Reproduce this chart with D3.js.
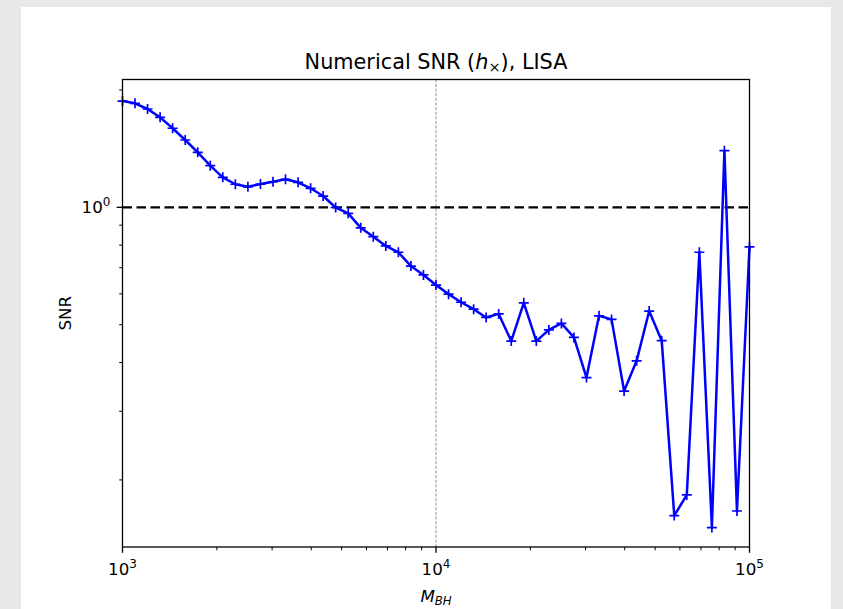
<!DOCTYPE html>
<html>
<head>
<meta charset="utf-8">
<script src="https://cdn.jsdelivr.net/npm/d3@7"></script>
<style>
  html, body { margin: 0; padding: 0; background: #e8e8e8; }
  svg { display: block; font-family: "DejaVu Sans", sans-serif; }
</style>
</head>
<body>
<svg id="chart"></svg>
<script>
// black hole mass (log spaced)
const masses = [1000, 1096, 1202, 1318, 1445, 1585, 1738, 1905, 2089, 2291,
  2512, 2754, 3020, 3311, 3631, 3981, 4365, 4786, 5248, 5754,
  6310, 6918, 7586, 8318, 9120, 10000, 10965, 12023, 13183, 14454,
  15849, 17378, 19055, 20893, 22909, 25119, 27542, 30200, 33113, 36308,
  39811, 43652, 47863, 52481, 57544, 63096, 69183, 75858, 83176, 91201, 100000];

// numerical SNR
const snr = [1.873, 1.848, 1.787, 1.701, 1.595, 1.488, 1.384, 1.279, 1.194, 1.146,
  1.129, 1.147, 1.163, 1.180, 1.159, 1.119, 1.069, 0.999, 0.965, 0.886,
  0.841, 0.796, 0.767, 0.707, 0.671, 0.632, 0.599, 0.571, 0.548, 0.522,
  0.533, 0.454, 0.569, 0.454, 0.485, 0.504, 0.464, 0.366, 0.527, 0.516,
  0.338, 0.404, 0.542, 0.455, 0.162, 0.183, 0.767, 0.151, 1.397, 0.1665, 0.792];

const xMajor = [1e3, 1e4, 1e5];
const xMajorExp = ['3', '4', '5'];
const xMinor = [2e3, 3e3, 4e3, 5e3, 6e3, 7e3, 8e3, 9e3, 2e4, 3e4, 4e4, 5e4, 6e4, 7e4, 8e4, 9e4];
const yMajor = [1];
const yMajorExp = ['0'];
const yMinor = [0.2, 0.3, 0.4, 0.5, 0.6, 0.7, 0.8, 0.9, 2];

const width = 843;
const height = 609;
const margin = { left: 122.5, right: 93.5, top: 79.5, bottom: 62 };

const svg = d3.select('#chart').attr('width', width).attr('height', height);

svg.append('rect').attr('width', width).attr('height', height).attr('fill', '#e8e8e8');
svg.append('rect').attr('x', 21).attr('y', 7).attr('width', 810).attr('height', height - 7).attr('fill', '#fff');

const x = d3.scaleLog().domain([1e3, 1e5]).range([margin.left, width - margin.right]);
const y = d3.scaleLog().domain([0.1346, 2.127]).range([height - margin.bottom, margin.top]);

const x0 = x.range()[0], x1 = x.range()[1];
const yB = y.range()[0], yT = y.range()[1];

const plot = svg.append('g');

// vertical reference at 1e4
plot.append('line')
  .attr('x1', x(1e4)).attr('x2', x(1e4))
  .attr('y1', yT).attr('y2', yB)
  .attr('stroke', '#777').attr('stroke-width', 0.8)
  .attr('stroke-dasharray', '3,1.6');

// SNR = 1 threshold
plot.append('line')
  .attr('x1', x0).attr('x2', x1)
  .attr('y1', y(1)).attr('y2', y(1))
  .attr('stroke', '#000').attr('stroke-width', 2.4)
  .attr('stroke-dasharray', '9.5,4.5');

const pts = masses.map((m, i) => [m, snr[i]]);

const line = d3.line().x((d) => x(d[0])).y((d) => y(d[1]));

plot.append('path')
  .datum(pts)
  .attr('d', line)
  .attr('fill', 'none')
  .attr('stroke', '#0000ff')
  .attr('stroke-width', 2.5)
  .attr('stroke-linejoin', 'round');

// '+' markers
const ms = 5;
plot.append('g')
  .attr('stroke', '#0000ff')
  .attr('stroke-width', 1.7)
  .selectAll('path')
  .data(pts)
  .join('path')
  .attr('d', (d) => `M${x(d[0]) - ms},${y(d[1])}h${2 * ms}M${x(d[0])},${y(d[1]) - ms}v${2 * ms}`);

// frame
svg.append('rect')
  .attr('x', x0).attr('y', yT).attr('width', x1 - x0).attr('height', yB - yT)
  .attr('fill', 'none').attr('stroke', '#000').attr('stroke-width', 1.3);

// ticks
const ticks = svg.append('g').attr('stroke', '#000').attr('stroke-width', 1.3);
ticks.selectAll('.xmaj').data(xMajor).join('line')
  .attr('x1', (d) => x(d)).attr('x2', (d) => x(d)).attr('y1', yB).attr('y2', yB + 5.8);
ticks.selectAll('.xmin').data(xMinor).join('line').attr('stroke-width', 1)
  .attr('x1', (d) => x(d)).attr('x2', (d) => x(d)).attr('y1', yB).attr('y2', yB + 3.3);
ticks.selectAll('.ymaj').data(yMajor).join('line')
  .attr('x1', x0 - 5.8).attr('x2', x0).attr('y1', (d) => y(d)).attr('y2', (d) => y(d));
ticks.selectAll('.ymin').data(yMinor).join('line').attr('stroke-width', 1)
  .attr('x1', x0 - 3.3).attr('x2', x0).attr('y1', (d) => y(d)).attr('y2', (d) => y(d));

// tick labels like 10^3
const fs = 16.7;
const xl = svg.append('g').attr('font-size', fs).attr('fill', '#000');
xMajor.forEach((v, i) => {
  const t = xl.append('text').attr('x', x(v)).attr('y', yB + 28).attr('text-anchor', 'middle');
  t.append('tspan').text('10');
  t.append('tspan').attr('dy', -7).attr('font-size', fs * 0.72).text(xMajorExp[i]);
});
yMajor.forEach((v, i) => {
  const t = xl.append('text').attr('x', x0 - 12).attr('y', y(v) + 6).attr('text-anchor', 'end');
  t.append('tspan').text('10');
  t.append('tspan').attr('dy', -7).attr('font-size', fs * 0.72).text(yMajorExp[i]);
});

// axis labels
const xlab = svg.append('text')
  .attr('x', (x0 + x1) / 2).attr('y', 602)
  .attr('text-anchor', 'middle').attr('font-size', fs);
xlab.append('tspan').attr('font-style', 'italic').text('M');
xlab.append('tspan').attr('font-style', 'italic').attr('font-size', fs * 0.7).attr('dy', 3).text('BH');

svg.append('text')
  .attr('transform', `translate(71,${(yT + yB) / 2}) rotate(-90)`)
  .attr('text-anchor', 'middle').attr('font-size', fs)
  .text('SNR');

// title
const title = svg.append('text')
  .attr('x', (x0 + x1) / 2).attr('y', 69)
  .attr('text-anchor', 'middle').attr('font-size', 20.8);
title.append('tspan').text('Numerical SNR (');
title.append('tspan').attr('font-style', 'italic').text('h');
title.append('tspan').attr('font-size', 14.5).attr('dy', 3).text('\u00d7');
title.append('tspan').attr('dy', -3).text('), LISA');
</script>
</body>
</html>
